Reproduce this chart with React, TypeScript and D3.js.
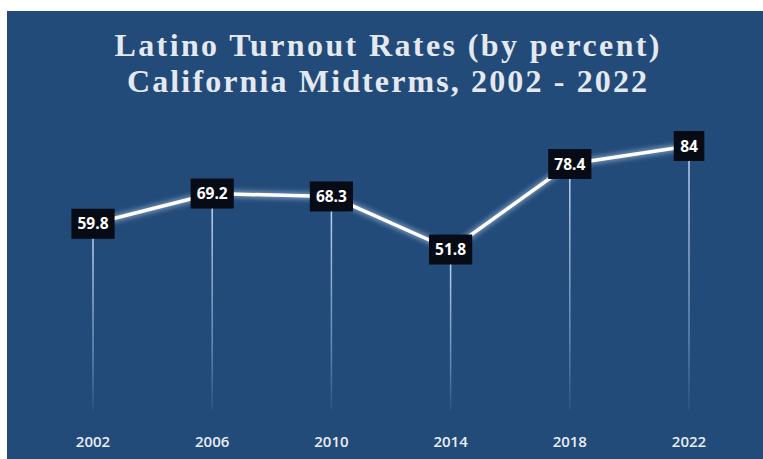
import React from "react";
import * as d3 from "d3";

const years = ["2002", "2006", "2010", "2014", "2018", "2022"];
const turnout = [59.8, 69.2, 68.3, 51.8, 78.4, 84];
const labels = ["59.8", "69.2", "68.3", "51.8", "78.4", "84"];
const titleLines = ["Latino Turnout Rates (by percent)", "California Midterms, 2002 - 2022"];
const titleWidths = [545, 520];

const W = 763;
const H = 459;

export default function App() {
  const x = d3.scalePoint<string>().domain(years).range([93, 689]);
  const y = d3.scaleLinear().domain([0, 84]).range([416, 146]);
  const line = d3
    .line<number>()
    .x((_, i) => x(years[i]) as number)
    .y((d) => y(d));
  const path = line(turnout) || "";

  const charW = (s: string) => s.length * 8.3 + (s.includes(".") ? -4 : 0);

  return (
    <svg width={W} height={H} style={{ position: "absolute", left: 0, top: 0 }}>
      <defs>
        <filter id="glow" x="-10%" y="-50%" width="120%" height="200%">
          <feGaussianBlur stdDeviation="2.5" />
        </filter>
        <linearGradient id="drop" x1="0" y1="0" x2="0" y2="1">
          <stop offset="0" stopColor="#bcd2ee" stopOpacity="1" />
          <stop offset="0.7" stopColor="#9ab8dc" stopOpacity="0.55" />
          <stop offset="1" stopColor="#9ab8dc" stopOpacity="0.08" />
        </linearGradient>
      </defs>
      <rect x={0} y={0} width={W} height={H} fill="#ffffff" />
      <rect x={7} y={11} width={W - 7} height={H - 11} fill="#224b7a" />
      {titleLines.map((t, i) => (
        <text
          key={t}
          x={387}
          y={56 + i * 36}
          textAnchor="middle"
          fill="#e4e8ef"
          fontFamily="'Liberation Serif', 'DejaVu Serif', serif"
          fontWeight="bold"
          fontSize={32}
          textLength={titleWidths[i]}
          lengthAdjust="spacing"
        >
          {t}
        </text>
      ))}
      {turnout.map((v, i) => {
        const cx = x(years[i]) as number;
        return (
          <rect
            key={"d" + i}
            x={cx - 0.75}
            y={y(v) + 14}
            width={1.5}
            height={410 - y(v) - 14}
            fill="url(#drop)"
          />
        );
      })}
      <path d={path} fill="none" stroke="#dfeaff" strokeWidth={7} opacity={0.45} filter="url(#glow)" />
      <path d={path} fill="none" stroke="#ffffff" strokeWidth={3.5} strokeLinejoin="round" />
      {turnout.map((v, i) => {
        const cx = x(years[i]) as number;
        const cy = y(v);
        const w = charW(labels[i]) + 14;
        return (
          <g key={"l" + i}>
            <rect x={cx - w / 2} y={cy - 15} width={w} height={30} fill="#060b16" />
            <text
              x={cx}
              y={cy + 5.5}
              textAnchor="middle"
              fill="#ffffff"
              fontFamily="'Open Sans', 'Noto Sans', sans-serif"
              fontWeight="bold"
              fontSize={15.5}
            >
              {labels[i]}
            </text>
          </g>
        );
      })}
      {years.map((yr) => (
        <text
          key={yr}
          x={x(yr) as number}
          y={447}
          textAnchor="middle"
          fill="#e8edf4"
          fontFamily="'Open Sans', 'Noto Sans', sans-serif"
          fontWeight={600}
          fontSize={15}
        >
          {yr}
        </text>
      ))}
    </svg>
  );
}
